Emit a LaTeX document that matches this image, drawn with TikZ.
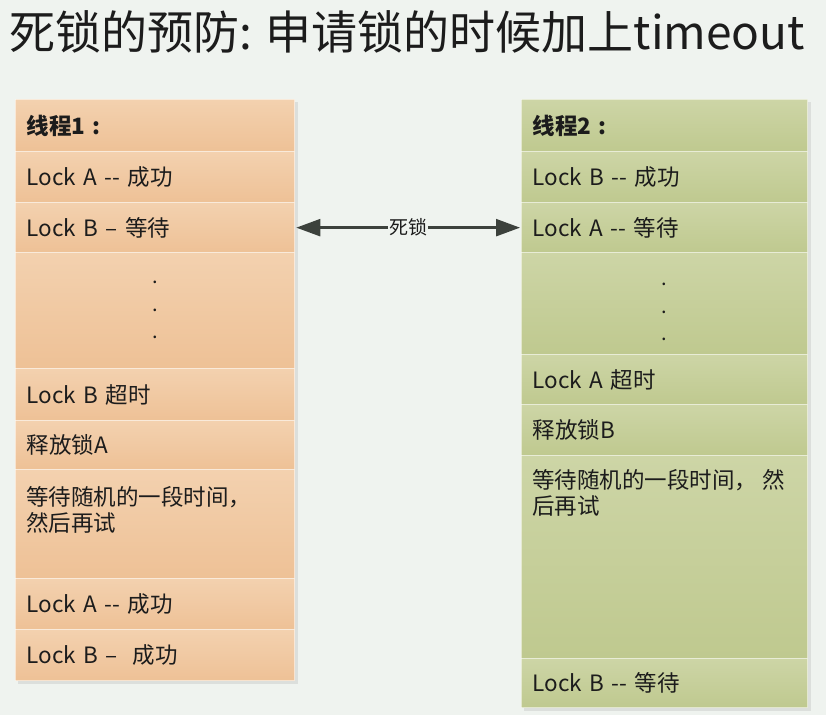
\documentclass[tikz,border=0pt]{standalone}
\usepackage{fontspec}
\setmainfont[Ligatures=TeXOff]{Noto Sans CJK SC}
\usetikzlibrary{arrows.meta}
\definecolor{bg}{HTML}{EFF3EF}
\definecolor{orTop}{HTML}{F3D1AF}
\definecolor{orBot}{HTML}{EEC196}
\definecolor{grTop}{HTML}{CDD5A6}
\definecolor{grBot}{HTML}{BFC98F}
\definecolor{ink}{HTML}{1C1C1C}
\definecolor{arrowc}{HTML}{3C413C}
\begin{document}
\begin{tikzpicture}[x=1pt,y=-1pt,
  cell/.style={rectangle, anchor=north west, inner xsep=11pt, inner ysep=0pt,
    draw=white, draw opacity=0.55, line width=1.3pt, text=ink,
    font=\fontsize{22.5}{27}\selectfont, align=left},
  lcell/.style={cell, top color=orTop, bottom color=orBot, text width=257pt, minimum width=279pt},
  rcell/.style={cell, top color=grTop, bottom color=grBot, text width=264pt, minimum width=286pt},
  inner/.style={anchor=north west, inner sep=0pt, text=ink, font=\fontsize{22.5}{26}\selectfont, align=left},
  dots/.style={anchor=north, inner sep=0pt, text=ink, font=\fontsize{20}{27.5}\selectfont, align=center},
  link/.style={arrowc, line width=2.4pt, {Triangle[length=24pt,width=17pt]}-{Triangle[length=24pt,width=17pt]}},
  shade/.style={fill=black, fill opacity=0.08}
]
\fill[bg] (0,0) rectangle (826,715);
\useasboundingbox (0,0) rectangle (826,715);

% title
\node[anchor=base west, inner sep=0pt, text=ink, font=\fontsize{46}{50}\selectfont] (title) at (9,49)
  {死锁的预防: 申请锁的时候加上timeout};

% shadows
\fill[shade] (18,102) rectangle (298,684);
\fill[shade] (524,102) rectangle (811,711);

% left column
\node[lcell, minimum height=52pt] (L1) at (15,99) {\bfseries 线程1 :};
\node[lcell, minimum height=51pt] (L2) at (15,151) {Lock A -- 成功};
\node[lcell, minimum height=50pt] (L3) at (15,202) {Lock B – 等待};
\node[lcell, minimum height=116pt] (L4) at (15,252) {};
\node[lcell, minimum height=52pt] (L5) at (15,368) {Lock B 超时};
\node[lcell, minimum height=49pt] (L6) at (15,420) {释放锁A};
\node[lcell, minimum height=109pt] (L7) at (15,469) {};
\node[lcell, minimum height=51pt] (L8) at (15,578) {Lock A -- 成功};
\node[lcell, minimum height=51pt] (L9) at (15,629) {Lock B –~ 成功};

\node[dots] (L4d) at ([yshift=-29pt]L4.north) {.\\.\\.};
\node[inner] (L7t) at ([xshift=11pt,yshift=-17pt]L7.north west) {等待随机的一段时间，\\然后再试};

% right column
\node[rcell, minimum height=52pt] (R1) at (521,99) {\bfseries 线程2 :};
\node[rcell, minimum height=51pt] (R2) at (521,151) {Lock B -- 成功};
\node[rcell, minimum height=50pt] (R3) at (521,202) {Lock A -- 等待};
\node[rcell, minimum height=102pt] (R4) at (521,252) {};
\node[rcell, minimum height=50pt] (R5) at (521,354) {Lock A 超时};
\node[rcell, minimum height=51pt] (R6) at (521,404) {释放锁B};
\node[rcell, minimum height=203pt] (R7) at (521,455) {};
\node[rcell, minimum height=49pt] (R8) at (521,658) {Lock B -- 等待};

\node[dots] (R4d) at ([yshift=-31pt]R4.north) {.\\.\\.};
\node[inner] (R7t) at ([xshift=11pt,yshift=-14pt]R7.north west) {等待随机的一段时间， 然\\后再试};

% deadlock arrow
\draw[link] ([xshift=1pt]L3.east) -- node[fill=bg, inner xsep=1pt, inner ysep=2pt, text=ink, font=\fontsize{19}{22}\selectfont] (dl) {死锁} ([xshift=-1pt]R3.west);
\end{tikzpicture}
\end{document}
